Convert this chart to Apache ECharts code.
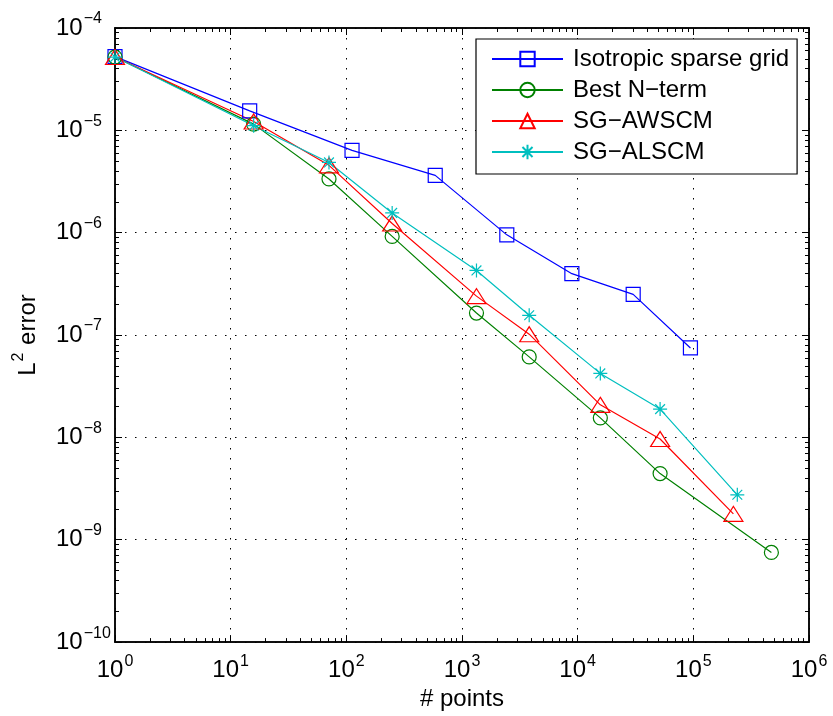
<!DOCTYPE html>
<html lang="en">
<head>
    <meta charset="UTF-8">
    <script src="https://cdn.jsdelivr.net/npm/echarts@6/dist/echarts.min.js"></script>
    <style>
        html, body { margin: 0; padding: 0; background: #fff; }
        #chart { width: 833px; height: 716px; }
    </style>
</head>
<body>
<div id="chart"></div>
<script type="text/javascript">
    // values (x = # points, y = L2 error)
    const isoN    = [1, 14.6, 112, 587, 2440, 8910, 30200, 94400];
    const isoErr  = [5.25e-5, 1.55e-5, 6.37e-6, 3.63e-6, 9.53e-7, 3.98e-7, 2.5e-7, 7.48e-8];
    const bestN   = [1, 15.8, 70.8, 249, 1334, 3810, 15700, 51600, 473000];
    const bestErr = [5.2e-5, 1.15e-5, 3.35e-6, 9.2e-7, 1.64e-7, 6.12e-8, 1.55e-8, 4.43e-9, 7.52e-10];
    const awsN    = [1, 15.8, 70.8, 249, 1334, 3810, 15700, 51600, 222000];
    const awsErr  = [5.2e-5, 1.22e-5, 4.55e-6, 1.23e-6, 2.4e-7, 1.02e-7, 2.08e-8, 9.64e-9, 1.79e-9];
    const alsN    = [1, 15.8, 70.8, 249, 1334, 3810, 15700, 51600, 240000];
    const alsErr  = [5.2e-5, 1.11e-5, 4.86e-6, 1.56e-6, 4.28e-7, 1.56e-7, 4.22e-8, 1.89e-8, 2.75e-9];

    const seriesNames = ['Isotropic sparse grid', 'Best N\u2212term', 'SG\u2212AWSCM', 'SG\u2212ALSCM'];

    // tick positions
    const xMajor = [1, 1e1, 1e2, 1e3, 1e4, 1e5, 1e6];
    const yMajor = [1e-10, 1e-9, 1e-8, 1e-7, 1e-6, 1e-5, 1e-4];
    const minorMult = [2, 3, 4, 5, 6, 7, 8, 9];

    function minorTicks(majors) {
        let out = [];
        for (let i = 0; i < majors.length - 1; i++) {
            minorMult.forEach(function (m) { out.push(m * majors[i]); });
        }
        return out;
    }
    const xMinor = minorTicks(xMajor);
    const yMinor = minorTicks(yMajor);

    const FONT = 'Liberation Sans, Arial, Helvetica, sans-serif';
    const STAR = 'path://M0,-1L0,1M-1,0L1,0M-0.7,-0.7L0.7,0.7M-0.7,0.7L0.7,-0.7';

    function powLabel(v) {
        let e = Math.round(Math.log10(v));
        return '{b|10}{e|' + (e < 0 ? '\u2212' + (-e) : e) + '}';
    }
    // superscript: both tokens sit on the bottom, exponent lifted by its bottom padding
    const powRich = {
        b: { fontSize: 24, fontFamily: FONT, color: '#000', verticalAlign: 'bottom', padding: [0, 0, 5, 0] },
        e: { fontSize: 16, fontFamily: FONT, color: '#000', verticalAlign: 'bottom', padding: [0, 0, 18, 1] }
    };

    // one log axis; major ones carry grid + labels, minor ones only short ticks
    function makeAxis(pos, min, max, ticks, major, labelled) {
        let ax = {
            type: 'log',
            logBase: 10,
            position: pos,
            min: min,
            max: max,
            axisLine: { show: true, onZero: false, lineStyle: { color: '#000', width: 1.5 } },
            axisTick: { show: true, inside: true, length: major ? 7 : 4, customValues: ticks,
                        lineStyle: { color: '#000', width: 1 } },
            axisLabel: { show: false },
            splitLine: { show: false },
            minorTick: { show: false },
            minorSplitLine: { show: false }
        };
        if (labelled) {
            ax.axisLabel = {
                show: true,
                customValues: ticks,
                formatter: powLabel,
                rich: powRich
            };
            if (pos === 'bottom') {
                ax.axisLabel.margin = 11;
            } else {
                ax.axisLabel.margin = 59;
                ax.axisLabel.align = 'left';
            }
            ax.splitLine = { show: true, lineStyle: { color: '#000', width: 1, type: [1.5, 8.5] } };
        }
        return ax;
    }

    let xAxes = [
        makeAxis('bottom', 1, 1e6, xMajor, true, true),
        makeAxis('bottom', 1, 1e6, xMinor, false, false),
        makeAxis('top', 1, 1e6, xMajor, true, false),
        makeAxis('top', 1, 1e6, xMinor, false, false)
    ];
    xAxes[0].name = '# points';
    xAxes[0].nameLocation = 'middle';
    xAxes[0].nameGap = 42;
    xAxes[0].nameTextStyle = { fontSize: 24, fontFamily: FONT, color: '#000' };

    let yAxes = [
        makeAxis('left', 1e-10, 1e-4, yMajor, true, true),
        makeAxis('left', 1e-10, 1e-4, yMinor, false, false),
        makeAxis('right', 1e-10, 1e-4, yMajor, true, false),
        makeAxis('right', 1e-10, 1e-4, yMinor, false, false)
    ];
    yAxes[0].name = '{l|L}{s|2}{l| error}';
    yAxes[0].nameLocation = 'middle';
    yAxes[0].nameGap = 75;
    yAxes[0].nameTextStyle = {
        rich: {
            l: { fontSize: 24, fontFamily: FONT, color: '#000', verticalAlign: 'bottom' },
            s: { fontSize: 16, fontFamily: FONT, color: '#000', verticalAlign: 'bottom', padding: [0, 1, 13, 1] }
        }
    };

    function pairs(xs, ys) {
        return xs.map(function (x, i) { return [x, ys[i]]; });
    }

    function lineSeries(name, xs, ys, color, symbol, size) {
        return {
            name: name,
            type: 'line',
            xAxisIndex: 0,
            yAxisIndex: 0,
            data: pairs(xs, ys),
            symbol: symbol,
            symbolSize: size,
            showAllSymbol: true,
            lineStyle: { color: color, width: 1.2 },
            itemStyle: { color: 'rgba(0,0,0,0)', borderColor: color, borderWidth: 1.2 },
            emphasis: { disabled: true },
            z: 3
        };
    }

    let chart = echarts.init(document.getElementById('chart'));

    let option = {
        animation: false,
        backgroundColor: '#fff',
        grid: { left: 115, top: 28, width: 694, height: 616, containLabel: false },
        xAxis: xAxes,
        yAxis: yAxes,
        legend: {
            left: 476,
            top: 39,
            orient: 'vertical',
            itemWidth: 71,
            itemHeight: 18,
            itemGap: 7,
            padding: [8, 8, 10, 15],
            backgroundColor: '#fff',
            borderColor: '#000',
            borderWidth: 1.2,
            textStyle: { fontSize: 24, fontFamily: FONT, color: '#000', lineHeight: 24, padding: [0, 0, 0, 5] },
            data: seriesNames
        },
        series: [
            lineSeries(seriesNames[0], isoN, isoErr, '#0000ff', 'rect', 14),
            lineSeries(seriesNames[1], bestN, bestErr, '#008000', 'circle', 14),
            lineSeries(seriesNames[2], awsN, awsErr, '#ff0000', 'triangle', [19, 15]),
            lineSeries(seriesNames[3], alsN, alsErr, '#00bfbf', STAR, 14)
        ]
    };

    chart.setOption(option);
</script>
</body>
</html>
